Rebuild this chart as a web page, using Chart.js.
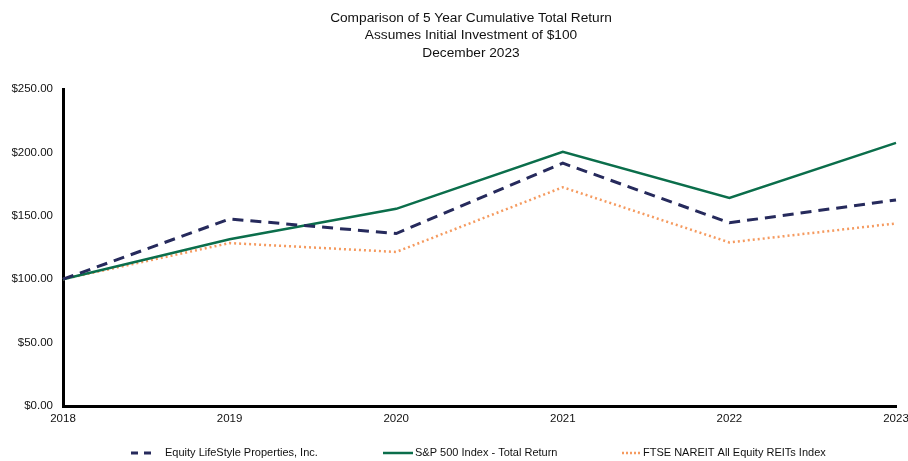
<!DOCTYPE html>
<html>
<head>
<meta charset="utf-8">
<script src="https://cdn.jsdelivr.net/npm/chart.js@4"></script>
<style>
  html, body { margin: 0; padding: 0; background: #fff; }
  #wrap { width: 908px; height: 461px; }
</style>
</head>
<body>
<div id="wrap"><canvas id="myChart" width="908" height="461"></canvas></div>
<script>
// data
const years = ['2018', '2019', '2020', '2021', '2022', '2023'];
const els = [100, 147.5, 136, 191.5, 144.5, 162.5];
const sp500 = [100, 131.5, 155.5, 200.5, 164, 207.5];
const nareit = [100, 128.5, 121.5, 172.5, 129, 144];
const titleLines = ['Comparison of 5 Year Cumulative Total Return', 'Assumes Initial Investment of $100', 'December 2023'];

const FONT = '"Liberation Sans", Arial, sans-serif';

// title + legend drawn by hand so they sit where the original has them
const extras = {
  id: 'extras',
  afterDraw(chart) {
    const ctx = chart.ctx;
    ctx.save();
    ctx.fillStyle = '#111';
    ctx.font = '13.7px ' + FONT;
    ctx.textAlign = 'center';
    ctx.textBaseline = 'middle';
    titleLines.forEach((t, i) => ctx.fillText(t, 471, 18 + i * 17.5));

    const spots = [
      { x0: 131, x1: 151, tx: 165 },
      { x0: 383, x1: 413, tx: 415 },
      { x0: 622, x1: 641, tx: 643 },
    ];
    const y = 453;
    ctx.font = '11px ' + FONT;
    ctx.textAlign = 'left';
    chart.data.datasets.forEach((ds, i) => {
      const s = spots[i];
      ctx.strokeStyle = ds.borderColor;
      ctx.lineWidth = ds.borderWidth;
      ctx.setLineDash(ds.legendDash);
      ctx.beginPath();
      ctx.moveTo(s.x0, y);
      ctx.lineTo(s.x1, y);
      ctx.stroke();
      ctx.fillStyle = '#111';
      ctx.fillText(ds.label, s.tx, y);
    });
    ctx.restore();
  }
};

const config = {
  type: 'line',
  data: {
    labels: years,
    datasets: [
      {
        label: 'Equity LifeStyle Properties, Inc.',
        data: els,
        borderColor: '#262a5c',
        borderWidth: 3,
        borderDash: [11, 7],
        legendDash: [7, 6],
      },
      {
        label: 'S&P 500 Index - Total Return',
        data: sp500,
        borderColor: '#0b6e4b',
        borderWidth: 2.5,
        borderDash: [],
        legendDash: [],
      },
      {
        label: 'FTSE NAREIT All Equity REITs Index',
        data: nareit,
        borderColor: '#f59a5f',
        borderWidth: 2.5,
        borderDash: [2, 3],
        legendDash: [2, 2],
      },
    ],
  },
  options: {
    responsive: false,
    animation: false,
    layout: { padding: { top: 89, right: 12, bottom: 0, left: 0 } },
    elements: { point: { radius: 0 }, line: { tension: 0 } },
    plugins: {
      legend: { display: false },
      title: { display: false },
      tooltip: { enabled: false },
    },
    scales: {
      x: {
        offset: false,
        grid: { display: false, drawTicks: false },
        border: { color: '#000', width: 3 },
        ticks: { color: '#111', font: { family: FONT, size: 11.5 }, padding: 6, maxRotation: 0, autoSkip: false },
        afterFit(scale) {
          scale.height = 55;
          scale.paddingRight = 0; // original lets the last year label run off the edge
        },
      },
      y: {
        min: 0,
        max: 250,
        grid: { display: false, drawTicks: false },
        border: { color: '#000', width: 3 },
        ticks: {
          stepSize: 50,
          color: '#111',
          font: { family: FONT, size: 11.5 },
          padding: 10,
          callback: (v) => '$' + v.toFixed(2),
        },
        afterFit(scale) { scale.width = 63; },
      },
    },
  },
  plugins: [extras],
};

new Chart(document.getElementById('myChart'), config);
</script>
</body>
</html>
